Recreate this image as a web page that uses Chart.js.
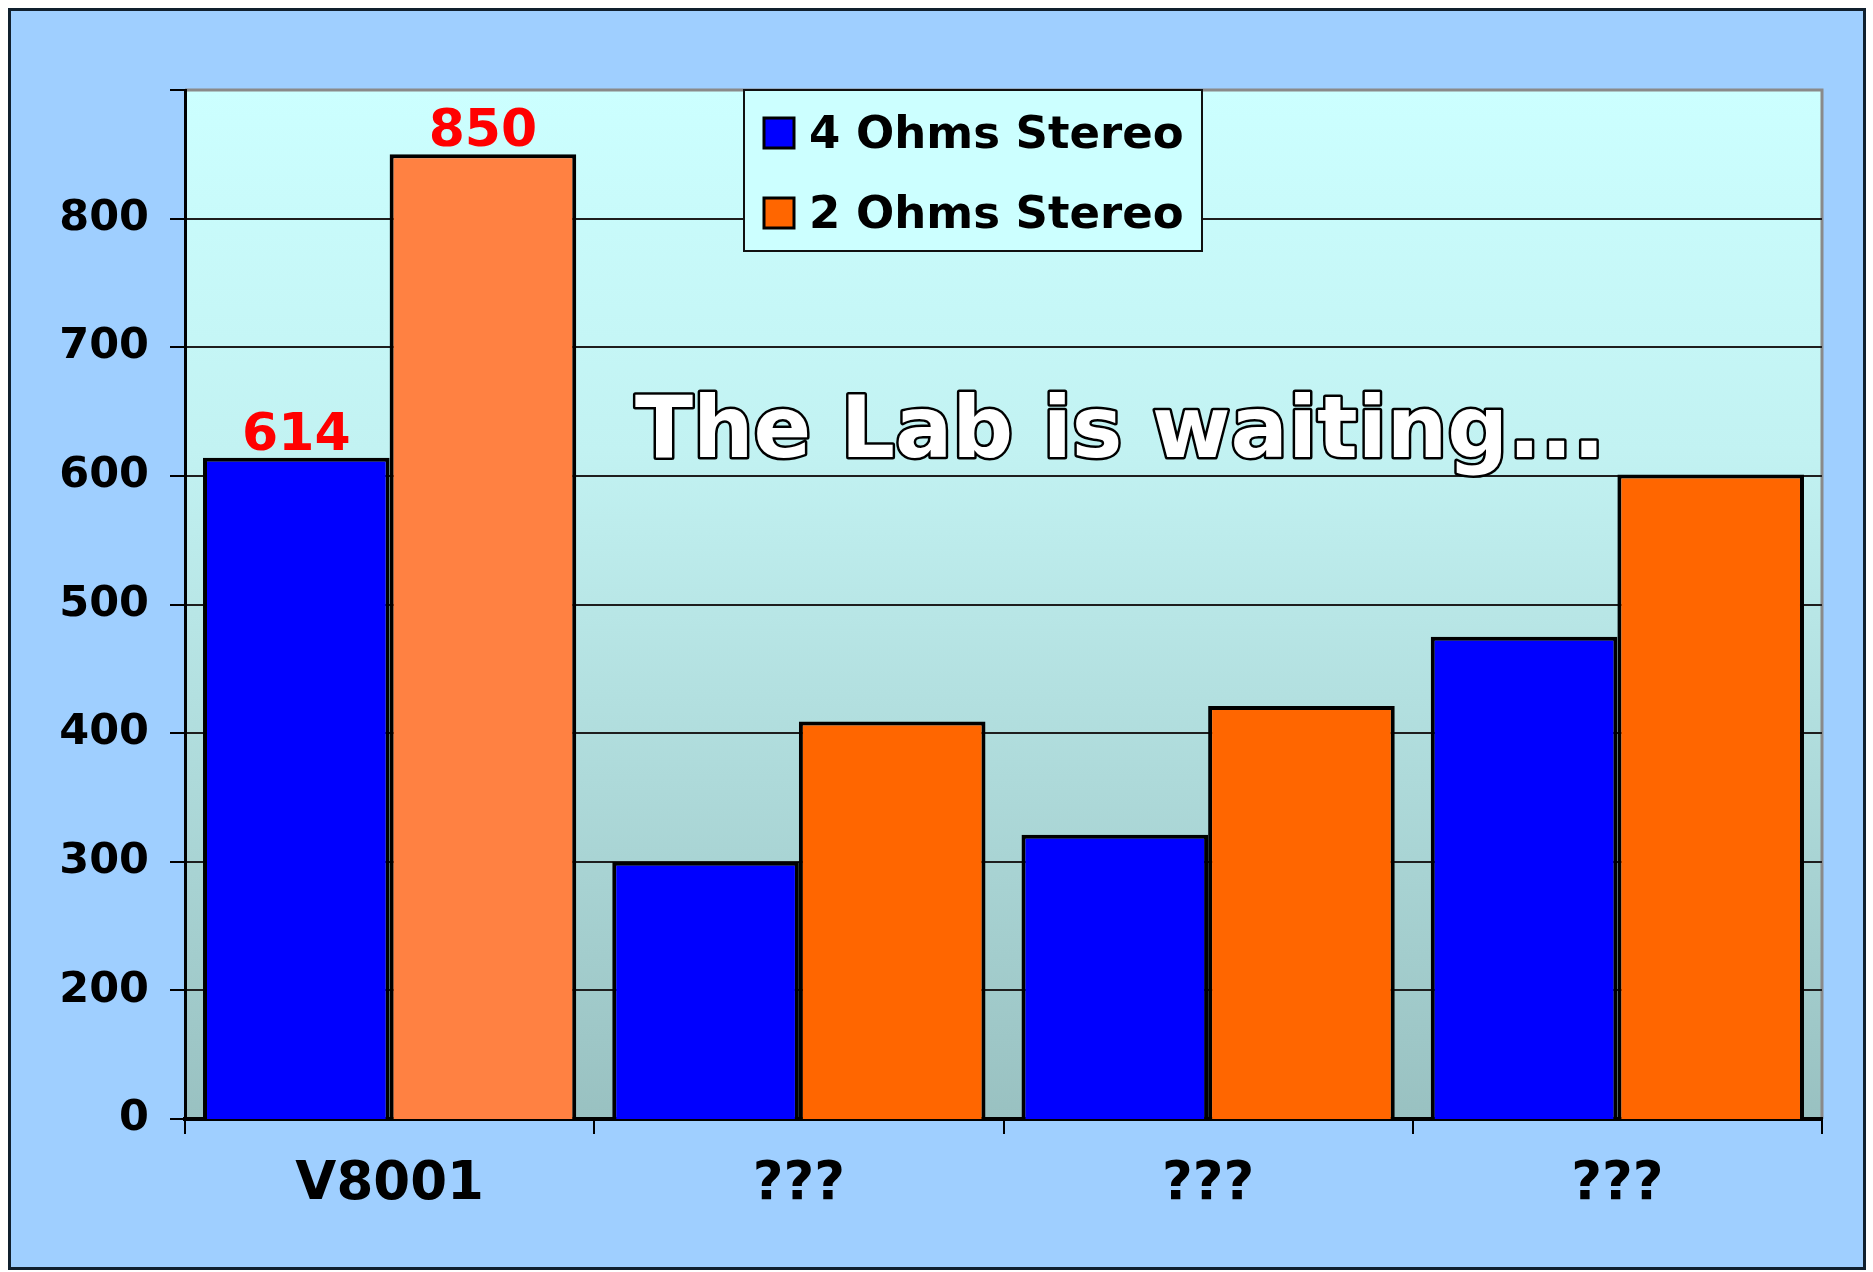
<!DOCTYPE html>
<html>
<head>
<meta charset="utf-8">
<script src="https://cdn.jsdelivr.net/npm/chart.js@4.4.0/dist/chart.umd.min.js"></script>
<style>
  html, body { margin: 0; padding: 0; background: #fff; }
  #frame {
    position: absolute; left: 8px; top: 8px;
    width: 1852px; height: 1256px;
    border: 3px solid #10202e;
    background: #9fcfff;
  }
  #frame canvas { display: block; }
</style>
</head>
<body>
<div id="frame"><canvas id="chart" width="1852" height="1256"></canvas></div>
<script>
const categories = ['V8001', '???', '???', '???'];
const fourOhms = [614, 300, 321, 475];
const twoOhms = [850, 409, 421, 601];
const seriesNames = ['4 Ohms Stereo', '2 Ohms Stereo'];
// the original axis skips 100: the bottom line is labelled 0
const yTickLabels = ['0', '200', '300', '400', '500', '600', '700', '800', ''];
const labelledCategories = ['V8001'];
const note = 'The Lab is waiting...';

const FONT = 'DejaVu Sans';

const plotBackground = {
    id: 'plotBackground',
    beforeDraw(chart) {
        const { ctx, chartArea: a } = chart;
        const g = ctx.createLinearGradient(0, a.top, 0, a.bottom);
        g.addColorStop(0, '#ccffff');
        g.addColorStop(0.35, '#c2f2f2');
        g.addColorStop(1, '#99c1c1');
        ctx.save();
        ctx.fillStyle = g;
        ctx.fillRect(a.left, a.top, a.right - a.left, a.bottom - a.top);
        ctx.strokeStyle = '#8a8a8a';
        ctx.lineWidth = 3;
        ctx.beginPath();
        ctx.moveTo(a.left, a.top);
        ctx.lineTo(a.right, a.top);
        ctx.lineTo(a.right, a.bottom);
        ctx.stroke();
        ctx.restore();
    }
};

const valueLabels = {
    id: 'valueLabels',
    afterDatasetsDraw(chart) {
        const ctx = chart.ctx;
        ctx.save();
        ctx.font = 'bold 52px "' + FONT + '"';
        ctx.fillStyle = '#ff0000';
        ctx.textAlign = 'center';
        ctx.textBaseline = 'alphabetic';
        chart.data.datasets.forEach((ds, di) => {
            chart.getDatasetMeta(di).data.forEach((bar, i) => {
                if (!labelledCategories.includes(categories[i])) return;
                ctx.fillText(String(ds.data[i]), bar.x, bar.y - 8);
            });
        });
        ctx.restore();
    }
};

const boxLegend = {
    id: 'boxLegend',
    afterDraw(chart) {
        const { ctx, chartArea: a } = chart;
        const x = a.left + 559, y = a.top, w = 458, h = 161;
        ctx.save();
        ctx.fillStyle = '#ccffff';
        ctx.fillRect(x, y, w, h);
        ctx.strokeStyle = '#111';
        ctx.lineWidth = 2;
        ctx.strokeRect(x, y, w, h);
        ctx.font = 'bold 45px "' + FONT + '"';
        ctx.textBaseline = 'alphabetic';
        ctx.textAlign = 'left';
        chart.data.datasets.forEach((ds, i) => {
            const base = y + 58 + i * 80;
            ctx.fillStyle = ds.swatch;
            ctx.fillRect(x + 20, base - 30, 30, 30);
            ctx.lineWidth = 3;
            ctx.strokeStyle = '#000';
            ctx.strokeRect(x + 20, base - 30, 30, 30);
            ctx.fillStyle = '#000';
            ctx.fillText(ds.label, x + 65, base);
        });
        ctx.restore();
    }
};

const noteText = {
    id: 'noteText',
    afterDraw(chart) {
        const { ctx, chartArea: a } = chart;
        ctx.save();
        ctx.font = 'bold 85px "' + FONT + '"';
        ctx.textAlign = 'left';
        ctx.textBaseline = 'alphabetic';
        ctx.lineJoin = 'round';
        ctx.lineWidth = 5;
        ctx.strokeStyle = '#000';
        ctx.strokeText(note, a.left + 450, a.top + 367);
        ctx.fillStyle = '#fff';
        ctx.fillText(note, a.left + 450, a.top + 367);
        ctx.restore();
    }
};

new Chart(document.getElementById('chart'), {
    type: 'bar',
    data: {
        labels: categories,
        datasets: [{
            label: seriesNames[0],
            data: fourOhms,
            backgroundColor: '#0000ff',
            swatch: '#0000ff',
            borderColor: '#000',
            borderWidth: 4,
            borderSkipped: false,
            categoryPercentage: 0.912,
            barPercentage: 1.0
        }, {
            label: seriesNames[1],
            data: twoOhms,
            backgroundColor: c => c.dataIndex === 0 ? '#ff8142' : '#ff6600',
            swatch: '#ff6600',
            borderColor: '#000',
            borderWidth: 4,
            borderSkipped: false,
            categoryPercentage: 0.912,
            barPercentage: 1.0
        }]
    },
    options: {
        responsive: false,
        animation: false,
        layout: { padding: { top: 79, right: 41, left: 0, bottom: 0 } },
        plugins: {
            legend: { display: false },
            tooltip: { enabled: false }
        },
        scales: {
            x: {
                grid: { display: true, drawOnChartArea: false, drawTicks: true, tickLength: 15, color: '#000', lineWidth: 2, offset: true },
                border: { display: true, color: '#000', width: 4 },
                ticks: { color: '#000', padding: 19, font: { family: FONT, size: 53, weight: 'bold' } },
                afterFit: s => { s.height = 148; }
            },
            y: {
                min: 100,
                max: 900,
                beginAtZero: false,
                grid: {
                    color: c => c.tick && c.tick.value === 900 ? 'rgba(0,0,0,0)' : '#1e1e1e',
                    tickColor: '#000',
                    lineWidth: 2,
                    tickLength: 15
                },
                border: { display: true, color: '#000', width: 3 },
                ticks: {
                    stepSize: 100,
                    color: '#000',
                    padding: 21,
                    font: { family: FONT, size: 43, weight: 'bold' },
                    callback: (v, i) => yTickLabels[i]
                },
                afterFit: s => { s.width = 174; }
            }
        }
    },
    plugins: [plotBackground, valueLabels, boxLegend, noteText]
});
</script>
</body>
</html>
